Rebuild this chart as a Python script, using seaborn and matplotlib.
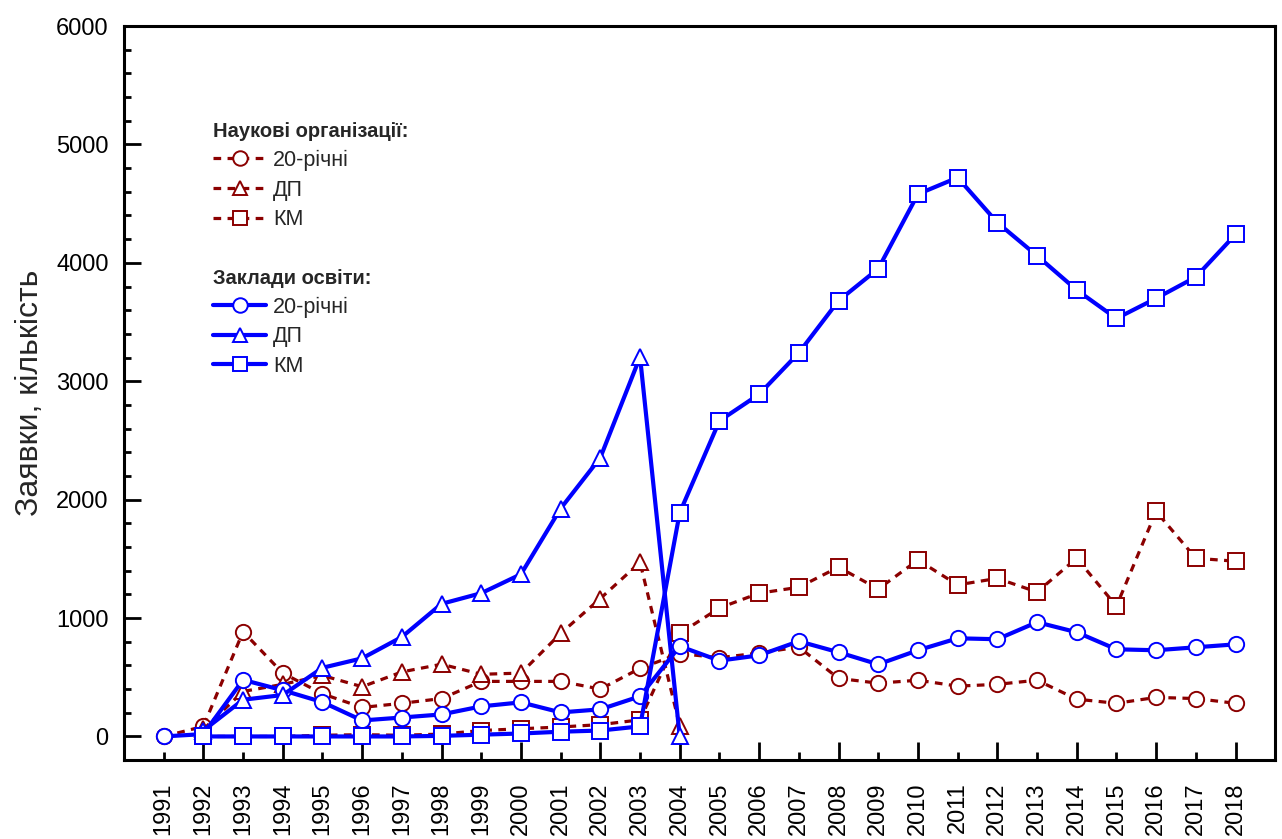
import matplotlib
matplotlib.use('Agg')
import matplotlib.pyplot as plt
import seaborn as sns
import numpy as np

sns.set_style('ticks')
plt.rcParams['font.family'] = ['Liberation Sans', 'DejaVu Sans']

# роки
years = list(range(1991, 2019))

# Наукові організації
sci_20 = [0, 85, 885, 535, 360, 245, 280, 320, 465, 465, 465, 400, 575, 700,
          665, 705, 755, 490, 450, 475, 425, 440, 475, 315, 280, 330, 320, 280]
sci_dp_years = list(range(1992, 2005))
sci_dp = [60, 380, 440, 515, 420, 545, 610, 525, 535, 870, 1165, 1470, 90]
sci_km_years = list(range(1992, 2019))
sci_km = [0, 0, 0, 10, 15, 10, 20, 50, 65, 80, 100, 140, 870,
          1085, 1210, 1260, 1430, 1245, 1490, 1280, 1335, 1220, 1505, 1100, 1900, 1505, 1480]

# Заклади освіти
edu_20 = [0, 20, 478, 390, 290, 135, 160, 186, 254, 288, 203, 229, 339, 762,
          640, 685, 804, 711, 609, 728, 829, 821, 965, 880, 736, 728, 753, 778]
edu_dp_years = list(range(1992, 2005))
edu_dp = [50, 310, 350, 580, 660, 840, 1120, 1210, 1370, 1925, 2355, 3205, 0]
edu_km_years = list(range(1992, 2019))
edu_km = [0, 0, 0, 0, 0, 0, 5, 15, 25, 40, 50, 85, 1890,
          2665, 2890, 3240, 3680, 3950, 4580, 4720, 4340, 4060, 3770, 3530, 3700, 3880, 4240]

red = '#8B0000'
blue = '#0000FF'

fig = plt.figure(figsize=(12.82, 8.39), dpi=100)
ax = fig.add_axes([0.0967, 0.094, 0.898, 0.875])


def draw(x, y, color, marker, dashed, z):
    sns.lineplot(x=x, y=y, ax=ax, color=color, marker=marker, markersize=11,
                 markerfacecolor='white', markeredgecolor=color, markeredgewidth=1.4,
                 linewidth=2.3 if dashed else 3.0, zorder=z, legend=False)
    line = ax.lines[-1]
    if dashed:
        line.set_linestyle((0, (2.4, 2.0)))
    return line


h_sci = [draw(years, sci_20, red, 'o', True, 2),
         draw(sci_dp_years, sci_dp, red, '^', True, 2),
         draw(sci_km_years, sci_km, red, 's', True, 2)]
h_edu = [draw(years, edu_20, blue, 'o', False, 3),
         draw(edu_dp_years, edu_dp, blue, '^', False, 3),
         draw(edu_km_years, edu_km, blue, 's', False, 3)]

labels = ['20-річні', 'ДП', 'КМ']

leg_style = dict(loc='upper left', frameon=False, fontsize=15.5,
                 title_fontproperties={'weight': 'bold', 'size': 14.5}, alignment='left',
                 borderpad=0, borderaxespad=0, handlelength=2.5, handletextpad=0.3,
                 labelspacing=0.4, markerscale=0.95)
leg1 = ax.legend(h_sci, labels, title='Наукові організації:',
                 bbox_to_anchor=(0.077, 0.869), **leg_style)
ax.add_artist(leg1)
ax.legend(h_edu, labels, title='Заклади освіти:',
          bbox_to_anchor=(0.077, 0.669), **leg_style)

ax.set_xlim(1990, 2019)
ax.set_ylim(-200, 6000)

even = [y for y in years if y % 2 == 0]
odd = [y for y in years if y % 2 == 1]
ax.set_xticks(even, labels=[str(y) for y in even])
ax.set_xticks(odd, labels=[str(y) for y in odd], minor=True)
ax.set_yticks(np.arange(0, 6001, 1000))
ax.set_yticks(np.arange(0, 6001, 200), minor=True)

ax.tick_params(axis='both', which='both', direction='in', width=2, colors='black',
               labelsize=17)
ax.tick_params(axis='x', which='major', length=13, pad=16)
ax.tick_params(axis='x', which='minor', length=6, pad=16)
ax.tick_params(axis='y', which='major', length=12, pad=11)
ax.tick_params(axis='y', which='minor', length=5, pad=11)
for lbl in ax.get_xticklabels(which='both'):
    lbl.set_rotation(90)

for s in ax.spines.values():
    s.set_linewidth(2.2)
    s.set_color('black')

ax.set_xlabel('')
ax.set_ylabel('Заявки, кількість', fontsize=23, labelpad=8)

fig.savefig('out.png', dpi=100)
